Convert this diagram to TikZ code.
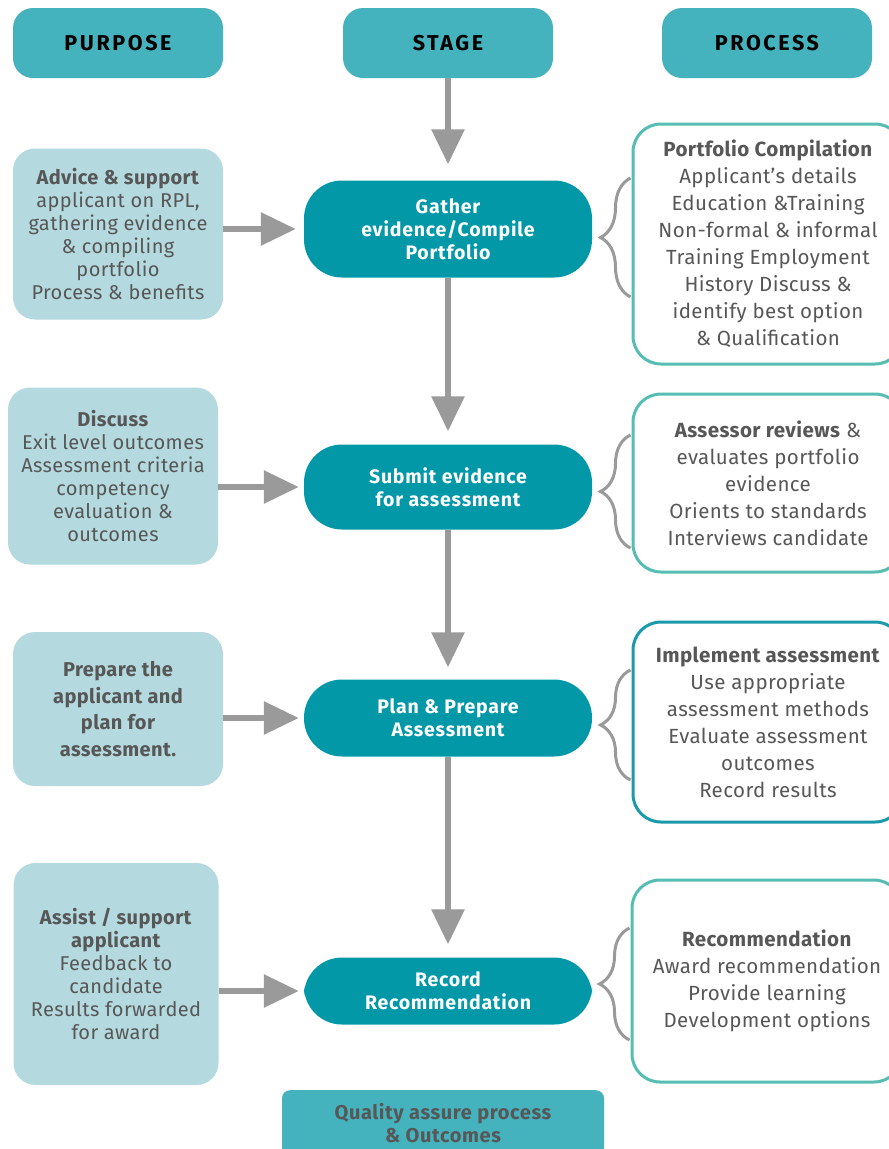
\documentclass[tikz,border=0pt]{standalone}
\usepackage{fontspec}
\setmainfont{Fira Sans}
\usepackage{xcolor}
\usetikzlibrary{arrows.meta, positioning, calc, decorations.pathreplacing}

\definecolor{headteal}{HTML}{45B3BD}
\definecolor{stageteal}{HTML}{0398A8}
\definecolor{purposeblue}{HTML}{B4D9DF}
\definecolor{processgreen}{HTML}{55BDB2}
\definecolor{processdark}{HTML}{1A9AAA}
\definecolor{arrowgray}{HTML}{9A9A9A}
\definecolor{textgray}{HTML}{575757}

\begin{document}
\begin{tikzpicture}[
    x=1pt, y=-1pt,
    header/.style={
        rectangle,
        fill=headteal,
        rounded corners=20pt,
        minimum width=210pt,
        minimum height=70pt,
        font=\fontsize{21.5}{24}\selectfont\bfseries\addfontfeature{LetterSpace=12},
        text=black
    },
    stage/.style={
        rectangle,
        fill=stageteal,
        rounded corners=38pt,
        minimum width=288pt,
        align=center,
        font=\fontsize{19.5}{23}\selectfont\bfseries\addfontfeature{LetterSpace=4},
        text=white
    },
    purpose/.style={
        rectangle,
        fill=purposeblue,
        rounded corners=22pt,
        minimum width=210pt,
        align=center,
        font=\fontsize{20}{23}\selectfont\addfontfeature{LetterSpace=2},
        text=textgray
    },
    process/.style={
        rectangle,
        draw=processgreen,
        fill=white,
        line width=3pt,
        rounded corners=28pt,
        minimum width=270pt,
        align=center,
        font=\fontsize{20.5}{27}\selectfont\addfontfeature{LetterSpace=2},
        text=textgray
    },
    flow_arrow/.style={
        -{Triangle[length=35pt,width=32pt]},
        line width=6pt,
        draw=arrowgray
    },
    process_brace/.style={
        decorate,
        decoration={brace, amplitude=30pt},
        line width=3pt,
        draw=arrowgray
    }
]

\useasboundingbox (0,0) rectangle (889,1149);
\clip (0,0) rectangle (889,1149);

% Column headers
\node[header] (purposehead) at (118,43) {PURPOSE};
\node[header] (stagehead) at (448,43) {STAGE};
\node[header] (processhead) at (767,43) {PROCESS};

% Stage column
\node[stage, minimum height=97pt] (gather) at (448,229) {Gather\\evidence/Compile\\Portfolio};
\node[stage, minimum height=85pt] (submit) at (448,487) {Submit evidence\\for assessment};
\node[stage, minimum height=77pt] (plan) at (448,718) {Plan \& Prepare\\Assessment};
\node[stage, minimum height=67pt] (record) at (448,991) {Record\\Recommendation};

% Purpose column
\node[purpose, minimum height=171pt] (advice) at (118,234) {
    \textbf{Advice \& support}\\
    applicant on RPL,\\
    gathering evidence\\
    \& compiling\\
    portfolio\\
    Process \& benefits
};
\node[purpose, minimum height=177pt] (discuss) at (113,476) {
    \textbf{Discuss}\\
    Exit level outcomes\\
    Assessment criteria\\
    competency\\
    evaluation \&\\
    outcomes
};
\node[purpose, minimum height=154pt, font=\fontsize{20}{26.5}\selectfont\bfseries\addfontfeature{LetterSpace=2}] (prepare) at (118,709) {
    Prepare the\\
    applicant and\\
    plan for\\
    assessment.
};
\node[purpose, minimum height=222pt, minimum width=205pt] (assist) at (116,974) {
    \textbf{Assist / support}\\
    \textbf{applicant}\\
    Feedback to\\
    candidate\\
    Results forwarded\\
    for award
};

% Process column
\node[process, minimum height=240pt] (portfolio) at (768,244) {
    \textbf{Portfolio Compilation}\\
    Applicant’s details\\
    Education \&Training\\
    Non-formal \& informal\\
    Training Employment\\
    History Discuss \&\\
    identify best option\\
    \& Qualification
};
\node[process, minimum height=178pt] (review) at (768,483) {
    \textbf{Assessor reviews} \&\\
    evaluates portfolio\\
    evidence\\
    Orients to standards\\
    Interviews candidate
};
\node[process, draw=processdark, minimum height=200pt] (implement) at (768,722) {
    \textbf{Implement assessment}\\
    Use appropriate\\
    assessment methods\\
    Evaluate assessment\\
    outcomes\\
    Record results
};
\node[process, minimum height=202pt] (recommend) at (767,981) {
    \textbf{Recommendation}\\
    Award recommendation\\
    Provide learning\\
    Development options
};

% Quality assurance footer
\node[rectangle, fill=headteal, rounded corners=8pt, minimum width=322pt, minimum height=66pt,
      font=\fontsize{20}{23}\selectfont\bfseries\addfontfeature{LetterSpace=3}, text=textgray, align=center, anchor=north]
      (quality) at (443,1090) {Quality assure process\\\& Outcomes};

% Downward flow
\draw[flow_arrow, shorten >=16pt] (stagehead) -- (gather);
\draw[flow_arrow, shorten >=13pt] (gather) -- (submit);
\draw[flow_arrow, shorten >=12pt] (submit) -- (plan);
\draw[flow_arrow, shorten >=13pt] (plan) -- (record);

% Purpose to stage
\draw[flow_arrow, shorten >=8pt] (advice.east |- gather) -- (gather);
\draw[flow_arrow, shorten >=5pt] (discuss.east |- submit) -- (submit);
\draw[flow_arrow, shorten >=5pt] (prepare.east |- plan) -- (plan);
\draw[flow_arrow, shorten >=5pt] (assist.east |- record) -- (record);

% Braces on the process boxes
\draw[process_brace] ($(portfolio.west)+(-1,53)$) -- ($(portfolio.west)+(-1,-66)$);
\draw[process_brace] ($(review.west)+(-1,65)$) -- ($(review.west)+(-1,-48)$);
\draw[process_brace] ($(implement.west)+(-1,58)$) -- ($(implement.west)+(-1,-52)$);
\draw[process_brace] ($(recommend.west)+(-1,59)$) -- ($(recommend.west)+(-1,-53)$);

\end{tikzpicture}
\end{document}
